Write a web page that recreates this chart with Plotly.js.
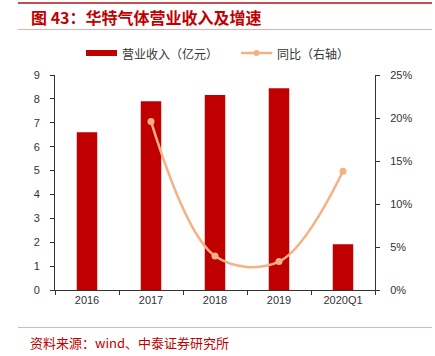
<!DOCTYPE html>
<html><head><meta charset="utf-8">
<script src="https://cdn.plot.ly/plotly-3.0.1.min.js"></script>
<style>body{margin:0;background:#fff}#c{width:435px;height:356px}</style>
</head><body><div id="c"></div>
<script>
const categories = ['2016','2017','2018','2019','2020Q1'];
const revenue = [6.6, 7.9, 8.16, 8.45, 1.92];
const growth = [null, 19.6, 3.95, 3.3, 13.8];
const leftTicks = [0,1,2,3,4,5,6,7,8,9];
const rightTicks = [0,5,10,15,20,25];
const rightTickText = ['0%','5%','10%','15%','20%','25%'];
const seriesNames = ['营业收入（亿元）','同比（右轴）'];

const cjk = '"Noto Sans CJK SC", sans-serif';
const latin = '"Liberation Sans", Arial, sans-serif';
const barColor = '#C00000';
const lineColor = '#F4B183';

const data = [
  {type:'bar', x:categories, y:revenue, name:seriesNames[0],
   marker:{color:barColor}, width:0.32, yaxis:'y'},
  {type:'scatter', mode:'lines+markers', x:categories, y:growth, name:seriesNames[1],
   line:{color:lineColor, width:2.5, shape:'spline', smoothing:1.0},
   marker:{color:lineColor, size:7}, yaxis:'y2', connectgaps:false}
];

// paper coordinate helpers (plot area: x 55..375, y 75..290)
const px = v => (v - 55) / 320;
const py = v => (290 - v) / 215;

const layout = {
  width:435, height:356,
  margin:{l:55, r:60, t:75, b:66},
  paper_bgcolor:'#fff', plot_bgcolor:'#fff',
  showlegend:false,
  xaxis:{type:'category', tickson:'boundaries', ticks:'outside', ticklen:4,
         tickcolor:'#333', showline:true, linecolor:'#333', linewidth:1,
         tickfont:{family:latin, size:11, color:'#333'}, showgrid:false, zeroline:false,
         range:[-0.5,4.5]},
  yaxis:{range:[0,9], tickvals:leftTicks, ticks:'outside', ticklen:4, tickcolor:'#333',
         showline:true, linecolor:'#333', linewidth:1, showgrid:false, zeroline:false,
         tickfont:{family:latin, size:11, color:'#333'}, ticklabelstandoff:8},
  yaxis2:{range:[0,25], tickvals:rightTicks, ticktext:rightTickText, overlaying:'y', side:'right',
          ticks:'outside', ticklen:4, tickcolor:'#333', showline:true, linecolor:'#333',
          linewidth:1, showgrid:false, zeroline:false,
          tickfont:{family:latin, size:11, color:'#333'}, ticklabelstandoff:8},
  shapes:[
    {type:'line', xref:'paper', yref:'paper', x0:px(18), x1:px(432), y0:py(3), y1:py(3),
     line:{color:'#C0504D', width:2}},
    {type:'line', xref:'paper', yref:'paper', x0:px(18), x1:px(432), y0:py(29.5), y1:py(29.5),
     line:{color:'#E6B0AE', width:1}},
    {type:'line', xref:'paper', yref:'paper', x0:px(18), x1:px(432), y0:py(327.5), y1:py(327.5),
     line:{color:'#E6B0AE', width:1}},
    // legend symbols
    {type:'rect', xref:'paper', yref:'paper', x0:px(86), x1:px(117), y0:py(56), y1:py(50),
     fillcolor:barColor, line:{width:0}},
    {type:'line', xref:'paper', yref:'paper', x0:px(241), x1:px(272), y0:py(53), y1:py(53),
     line:{color:lineColor, width:2.5}},
    {type:'circle', xref:'paper', yref:'paper', x0:px(253.5), x1:px(259.5), y0:py(56), y1:py(50),
     fillcolor:lineColor, line:{width:0}}
  ],
  annotations:[
    {text:'<b>图 43：华特气体营业收入及增速</b>', xref:'paper', yref:'paper',
     x:px(29), y:py(17), xanchor:'left', yanchor:'middle', showarrow:false,
     font:{family:cjk, size:16, color:'#C00000'}},
    {text:seriesNames[0], xref:'paper', yref:'paper',
     x:px(120), y:py(53), xanchor:'left', yanchor:'middle', showarrow:false,
     font:{family:cjk, size:12, color:'#333'}},
    {text:seriesNames[1], xref:'paper', yref:'paper',
     x:px(275), y:py(53), xanchor:'left', yanchor:'middle', showarrow:false,
     font:{family:cjk, size:12, color:'#333'}},
    {text:'资料来源：wind、中泰证券研究所', xref:'paper', yref:'paper',
     x:px(28), y:py(342), xanchor:'left', yanchor:'middle', showarrow:false,
     font:{family:cjk, size:13, color:'#C00000'}}
  ]
};
Plotly.newPlot('c', data, layout, {displayModeBar:false, staticPlot:true});
</script></body></html>
